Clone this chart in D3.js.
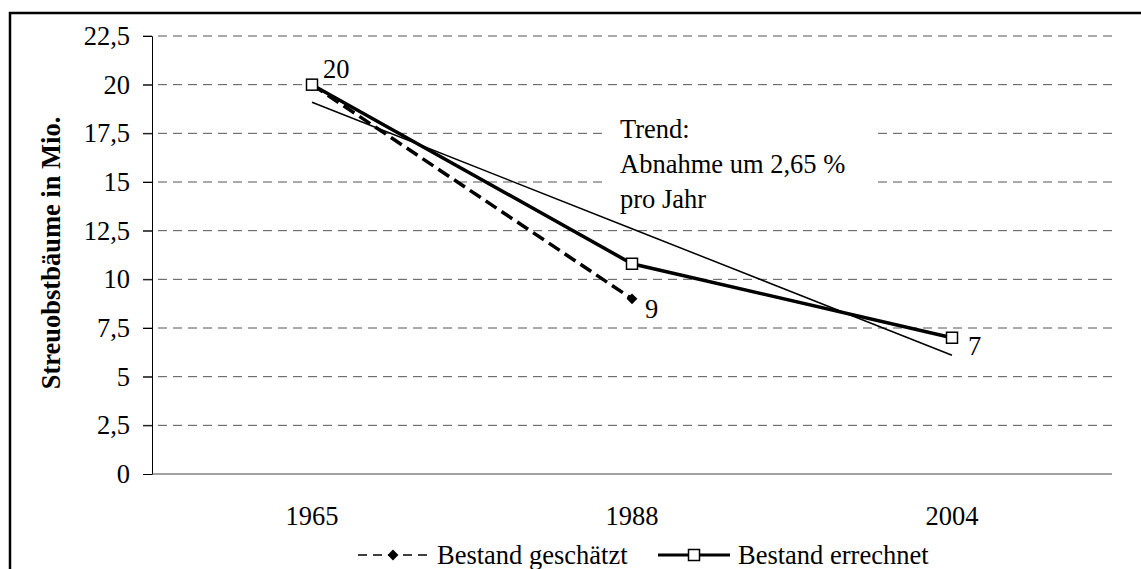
<!DOCTYPE html>
<html>
<head>
<meta charset="utf-8">
<script src="https://cdn.jsdelivr.net/npm/d3@7"></script>
<style>
  body { margin: 0; background: #fff; }
  text { font-family: "Liberation Serif", "Times New Roman", serif; }
</style>
</head>
<body>
<svg id="chart"></svg>
<script>
// data
const years = ["1965", "1988", "2004"];
const geschaetzt = [20, 9, null];
const errechnet = [20, 10.8, 7];
const trend = [19.1, 12.6, 6.1];
const yTicks = [0, 2.5, 5, 7.5, 10, 12.5, 15, 17.5, 20, 22.5];
const pointLabels = [
  { year: "1965", value: 20, text: "20" },
  { year: "1988", value: 9, text: "9" },
  { year: "2004", value: 7, text: "7" }
];
const trendText = ["Trend:", "Abnahme um 2,65 %", "pro Jahr"];
const legendNames = ["Bestand geschätzt", "Bestand errechnet"];

const width = 1141;
const height = 569;
const fs = 26.5; // font size used by all labels

const svg = d3.select("#chart")
  .attr("width", width)
  .attr("height", height);

// outer frame (runs past right/bottom edge like in the original)
svg.append("rect")
  .attr("x", 10).attr("y", 13)
  .attr("width", 1160).attr("height", 600)
  .attr("fill", "none")
  .attr("stroke", "#000")
  .attr("stroke-width", 2.5);

const plotL = 152, plotR = 1112, plotT = 36, plotB = 474;

const x = d3.scaleBand().domain(years).range([plotL, plotR]);
const y = d3.scaleLinear().domain([0, 22.5]).range([plotB, plotT]);
const cx = d => x(d) + x.bandwidth() / 2;

// gridlines
svg.append("g")
  .selectAll("line")
  .data(yTicks.filter(d => d > 0))
  .enter()
  .append("line")
  .attr("x1", plotL - 9).attr("x2", plotR)
  .attr("y1", d => y(d)).attr("y2", d => y(d))
  .attr("stroke", "#555")
  .attr("stroke-width", 1)
  .attr("stroke-dasharray", "9,6");

// y axis
const yAxis = svg.append("g")
  .attr("transform", `translate(${plotL},0)`)
  .call(d3.axisLeft(y).tickValues(yTicks).tickSize(9).tickPadding(13)
    .tickFormat(d => String(d).replace(".", ",")));
yAxis.select(".domain").attr("stroke", "#000");
yAxis.selectAll(".tick line").attr("stroke", "#000");
yAxis.selectAll("text")
  .attr("font-size", fs)
  .attr("fill", "#000")
  .style("font-family", "'Liberation Serif', 'Times New Roman', serif");

// x axis
const xAxis = svg.append("g")
  .attr("transform", `translate(0,${plotB})`)
  .call(d3.axisBottom(x).tickSize(0).tickPadding(32));
xAxis.select(".domain").attr("stroke", "#444").attr("d", `M${plotL},0H${plotR}`);
xAxis.selectAll("text")
  .attr("font-size", fs)
  .attr("fill", "#000")
  .style("font-family", "'Liberation Serif', 'Times New Roman', serif");

// y title
svg.append("text")
  .attr("transform", `translate(60,253) rotate(-90)`)
  .attr("text-anchor", "middle")
  .attr("font-size", fs)
  .attr("font-weight", "bold")
  .text("Streuobstbäume in Mio.");

// trend note with white background
const note = svg.append("g").attr("transform", "translate(607,104)");
note.append("rect")
  .attr("width", 271).attr("height", 116)
  .attr("fill", "#fff");
note.selectAll("text")
  .data(trendText)
  .enter()
  .append("text")
  .attr("x", 13)
  .attr("y", (d, i) => 34 + i * 35)
  .attr("font-size", fs)
  .text(d => d);

// trend line
const line = d3.line()
  .defined(d => d.v != null)
  .x(d => cx(d.year))
  .y(d => y(d.v));

svg.append("path")
  .datum(years.map((yr, i) => ({ year: yr, v: trend[i] })))
  .attr("d", line)
  .attr("fill", "none")
  .attr("stroke", "#000")
  .attr("stroke-width", 1.5);

// geschätzt (dashed)
const gData = years.map((yr, i) => ({ year: yr, v: geschaetzt[i] })).filter(d => d.v != null);
svg.append("path")
  .datum(gData)
  .attr("d", line)
  .attr("fill", "none")
  .attr("stroke", "#000")
  .attr("stroke-width", 3.5)
  .attr("stroke-dasharray", "13,6");

// errechnet (solid)
const eData = years.map((yr, i) => ({ year: yr, v: errechnet[i] }));
svg.append("path")
  .datum(eData)
  .attr("d", line)
  .attr("fill", "none")
  .attr("stroke", "#000")
  .attr("stroke-width", 3.5);

// markers
svg.selectAll(".diamond")
  .data(gData)
  .enter()
  .append("path")
  .attr("class", "diamond")
  .attr("transform", d => `translate(${cx(d.year)},${y(d.v)})`)
  .attr("d", d3.symbol(d3.symbolDiamond2, 75))
  .attr("fill", "#000");

svg.selectAll(".square")
  .data(eData)
  .enter()
  .append("rect")
  .attr("class", "square")
  .attr("x", d => cx(d.year) - 5.5)
  .attr("y", d => y(d.v) - 5.5)
  .attr("width", 11).attr("height", 11)
  .attr("fill", "#fff")
  .attr("stroke", "#000")
  .attr("stroke-width", 1.5);

// value labels
const labelOffset = [[11, -7], [13, 19], [16, 17]];
svg.selectAll(".vlabel")
  .data(pointLabels)
  .enter()
  .append("text")
  .attr("class", "vlabel")
  .attr("x", (d, i) => cx(d.year) + labelOffset[i][0])
  .attr("y", (d, i) => y(d.value) + labelOffset[i][1])
  .attr("font-size", fs)
  .text(d => d.text);

// legend
const lg = svg.append("g").attr("transform", "translate(0,555)");
lg.append("line")
  .attr("x1", 358).attr("x2", 428)
  .attr("stroke", "#000").attr("stroke-width", 1.5)
  .attr("stroke-dasharray", "9,6");
lg.append("path")
  .attr("transform", "translate(393,0)")
  .attr("d", d3.symbol(d3.symbolDiamond2, 75))
  .attr("fill", "#000");
lg.append("text")
  .attr("x", 437).attr("y", 9)
  .attr("font-size", fs)
  .text(legendNames[0]);

lg.append("line")
  .attr("x1", 658).attr("x2", 730)
  .attr("stroke", "#000").attr("stroke-width", 3);
lg.append("rect")
  .attr("x", 688.5).attr("y", -5.5)
  .attr("width", 11).attr("height", 11)
  .attr("fill", "#fff").attr("stroke", "#000").attr("stroke-width", 1.5);
lg.append("text")
  .attr("x", 738).attr("y", 9)
  .attr("font-size", fs)
  .text(legendNames[1]);
</script>
</body>
</html>
